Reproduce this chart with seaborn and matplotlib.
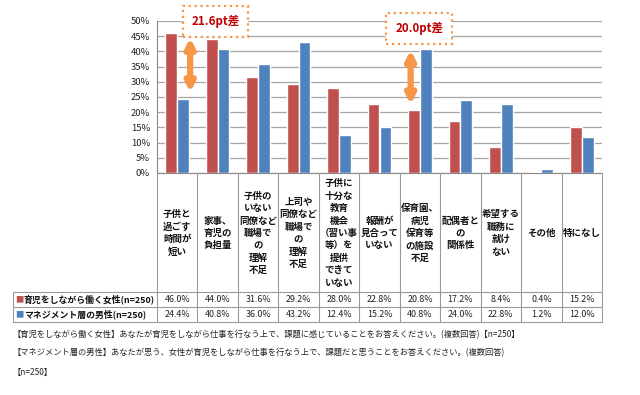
import pandas as pd
import matplotlib.pyplot as plt
import seaborn as sns
from matplotlib.transforms import blended_transform_factory
from matplotlib.lines import Line2D
from matplotlib.ticker import PercentFormatter

categories = [
    '子供と\n過ごす\n時間が\n短い',
    '家事、\n育児の\n負担量',
    '子供の\nいない\n同僚など\n職場で\nの\n理解\n不足',
    '上司や\n同僚など\n職場で\nの\n理解\n不足',
    '子供に\n十分な\n教育\n機会\n（習い事\n等）を\n提供\nできて\nいない',
    '報酬が\n見合って\nいない',
    '保育園、\n病児\n保育等\nの施設\n不足',
    '配偶者と\nの\n関係性',
    '希望する\n職務に\n就け\nない',
    'その他',
    '特になし',
]
women = [46.0, 44.0, 31.6, 29.2, 28.0, 22.8, 20.8, 17.2, 8.4, 0.4, 15.2]
men = [24.4, 40.8, 36.0, 43.2, 12.4, 15.2, 40.8, 24.0, 22.8, 1.2, 12.0]
series_names = ['育児をしながら働く女性(n=250)', 'マネジメント層の男性(n=250)']
colors = ['#C0504D', '#4F81BD']
yticks = [0, 5, 10, 15, 20, 25, 30, 35, 40, 45, 50]
gap_labels = ['21.6pt差', '20.0pt差']
notes = [
    '【育児をしながら働く女性】あなたが育児をしながら仕事を行なう上で、課題に感じていることをお答えください。(複数回答)【n=250】',
    '【マネジメント層の男性】あなたが思う、女性が育児をしながら仕事を行なう上で、課題だと思うことをお答えください。(複数回答)',
    '【n=250】',
]

sns.set_style('white')
plt.rcParams['font.family'] = ['Noto Sans CJK JP', 'DejaVu Sans']

W, H = 640, 395
def fx(px):
    return px / W
def fy(py):
    return 1 - py / H

rows = []
for i, c in enumerate(categories):
    rows.append({'cat': i, 'series': series_names[0], 'value': women[i]})
    rows.append({'cat': i, 'series': series_names[1], 'value': men[i]})
df = pd.DataFrame(rows)

fig = plt.figure(figsize=(6.4, 3.95), dpi=100)
ax = fig.add_axes([fx(157), fy(173), (602 - 157) / W, (173 - 21) / H])
sns.barplot(data=df, x='cat', y='value', hue='series', palette=colors,
            width=0.58, saturation=1, legend=False, ax=ax, zorder=3)
ax.set_xlim(-0.5, 10.5)
ax.set_ylim(0, 50)
ax.set_yticks(yticks)
ax.yaxis.set_major_formatter(PercentFormatter(decimals=0))
ax.set_xticks([])
ax.set_xlabel('')
ax.set_ylabel('')
ax.tick_params(axis='y', labelsize=6.8, length=3, color='#888888', pad=2,
               labelcolor='#222222')
ax.yaxis.grid(True, color='#A6A6A6', lw=0.9, zorder=0)
for s in ['top', 'right']:
    ax.spines[s].set_visible(False)
ax.spines['left'].set_color('#888888')
ax.spines['bottom'].set_color('#888888')

# data table under the chart
tr = blended_transform_factory(ax.transData, fig.transFigure)
line_c = '#9A9A9A'
for i, c in enumerate(categories):
    fig.text(i, fy(233), c, transform=tr, ha='center', va='center',
             fontsize=6.8, fontweight='bold', linespacing=1.3, color='#111111')
    fig.text(i, fy(299.5), f'{women[i]:.1f}%', transform=tr, ha='center',
             va='center', fontsize=6.4, color='#222222')
    fig.text(i, fy(314.5), f'{men[i]:.1f}%', transform=tr, ha='center',
             va='center', fontsize=6.4, color='#222222')
for b in range(len(categories) + 1):
    fig.add_artist(Line2D([b - 0.5, b - 0.5], [fy(173), fy(322)], transform=tr,
                          color=line_c, lw=0.8))
for py in [292, 307, 322]:
    fig.add_artist(Line2D([fx(13), fx(602)], [fy(py), fy(py)], color=line_c, lw=0.8))
fig.add_artist(Line2D([fx(13), fx(13)], [fy(292), fy(322)], color=line_c, lw=0.8))

for k, (name, col) in enumerate(zip(series_names, colors)):
    y = fy(299.5 + 15 * k)
    fig.text(fx(15), y, '■', color=col, fontsize=6, va='center', ha='left')
    fig.text(fx(24), y, name, fontsize=6.4, fontweight='bold', va='center',
             ha='left', color='#111111')

# gap callouts
arrow_kw = dict(arrowstyle='<|-|>', color='#F79646', lw=4.5, mutation_scale=13,
                shrinkA=0, shrinkB=0)
ax.annotate('', xy=(0.32, 26.5), xytext=(0.32, 44.5), arrowprops=arrow_kw,
            annotation_clip=False)
ax.annotate('', xy=(5.77, 22.5), xytext=(5.77, 40.5), arrowprops=arrow_kw,
            annotation_clip=False)
box_kw = dict(boxstyle='square,pad=0.75', fc='white', ec='#F79646', ls=':', lw=1.6)
ax.text(0.95, 49.8, gap_labels[0], ha='center', va='center', fontsize=8.3,
        fontweight='bold', color='#C00000', bbox=box_kw, clip_on=False, zorder=5)
ax.text(5.98, 47.5, gap_labels[1], ha='center', va='center', fontsize=8.3,
        fontweight='bold', color='#C00000', bbox=box_kw, clip_on=False, zorder=5)

for k, (t, py) in enumerate(zip(notes, [335, 353, 372])):
    fig.text(fx(13), fy(py), t, fontsize=5.95, va='center', ha='left', color='#222222')

fig.savefig('out.png', dpi=100)
